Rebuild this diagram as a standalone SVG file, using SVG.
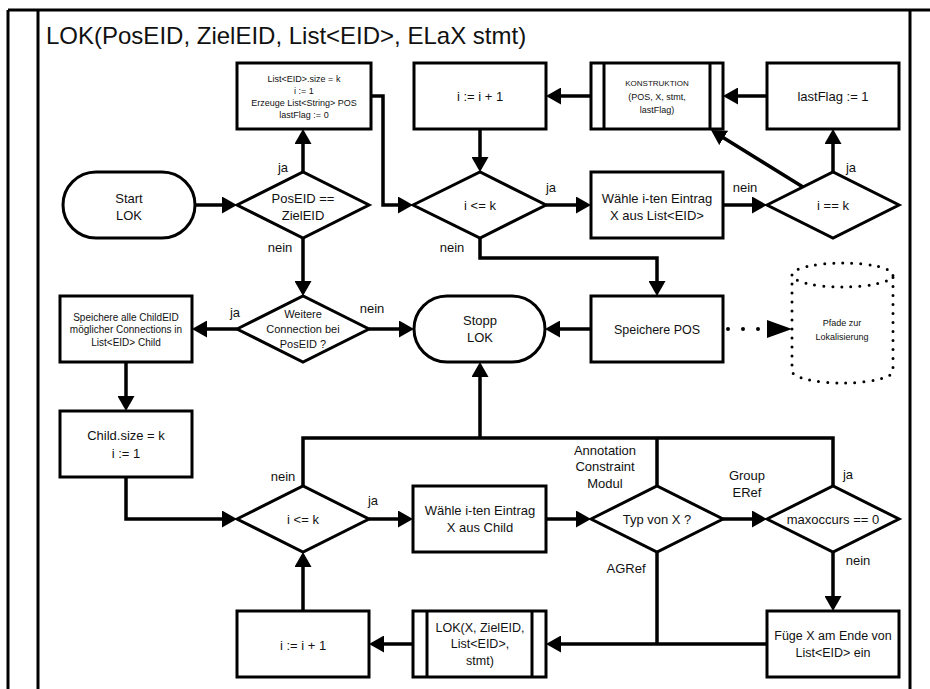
<svg xmlns="http://www.w3.org/2000/svg" width="930" height="689" viewBox="0 0 930 689">
  <defs>
    <style>
      .shape { fill: #fff; stroke: #000; stroke-width: 3; }
      .inner { fill: none; stroke: #000; stroke-width: 3; }
      .frame { fill: none; stroke: #000; stroke-width: 3; }
      .conn { fill: none; stroke: #000; stroke-width: 3.5; stroke-linejoin: miter; }
      .arrow { marker-end: url(#ah); }
      .dots { fill: none; stroke: #000; stroke-width: 3; stroke-linecap: round; stroke-dasharray: 0 9; }
      text { font-family: "Liberation Sans", Arial, sans-serif; fill: #111; text-anchor: middle; }
      .title { font-size: 24px; text-anchor: start; }
      .t13 { font-size: 13px; }
      .t12 { font-size: 12.5px; }
      .t11 { font-size: 11px; }
      .t10 { font-size: 10px; }
      .t9 { font-size: 9px; }
      .t8 { font-size: 8px; }
      .lbl { font-size: 13px; }
    </style>
    <marker id="ah" viewBox="0 0 15 17" refX="7" refY="8.5" markerWidth="15" markerHeight="17" markerUnits="userSpaceOnUse" orient="auto">
      <path d="M0,0 L15,8.5 L0,17 z" fill="#000"/>
    </marker>
  </defs>

  <!-- page frame -->
  <g id="frame">
    <path class="frame" d="M8,10 H930 M8,10 V689 M38,10 V689 M910,10 V689"/>
    <text class="title" x="46" y="44">LOK(PosEID, ZielEID, List&lt;EID&gt;, ELaX stmt)</text>
  </g>

  <!-- connectors -->
  <g id="connectors">
    <path class="conn arrow" d="M195,205 H229"/>
    <path class="conn arrow" d="M303,172 V137"/>
    <path class="conn arrow" d="M303,238 V288"/>
    <path class="conn arrow" d="M371,96 H383 V205 H405"/>
    <path class="conn arrow" d="M480,129 V164"/>
    <path class="conn arrow" d="M546,205 H583"/>
    <path class="conn arrow" d="M723,205 H759"/>
    <path class="conn arrow" d="M833,172 V137"/>
    <path class="conn arrow" d="M767,96 H731"/>
    <path class="conn arrow" d="M591,96 H554"/>
    <path class="conn arrow" d="M803,187 L717.8,134.2"/>
    <path class="conn arrow" d="M480,238 V258 H657 V288"/>
    <path class="conn arrow" d="M591,329 H553"/>
    <path class="conn arrow" d="M369,329 H406"/>
    <path class="conn arrow" d="M237,329 H200"/>
    <path class="conn arrow" d="M126,362 V403"/>
    <path class="conn arrow" d="M126,477 V519 H229"/>
    <path class="conn" d="M303,486 V438 H833 V486 M657,438 V486"/>
    <path class="conn arrow" d="M480,438 V370"/>
    <path class="conn arrow" d="M369,519 H405"/>
    <path class="conn arrow" d="M546,519 H583"/>
    <path class="conn arrow" d="M723,519 H759"/>
    <path class="conn arrow" d="M833,552 V603"/>
    <path class="conn" d="M657,552 V644"/>
    <path class="conn arrow" d="M767,644 H554"/>
    <path class="conn arrow" d="M413,644 H377"/>
    <path class="conn arrow" d="M303,611 V560"/>
    <!-- dotted data link to the store -->
    <path d="M728,329 H760" fill="none" stroke="#000" stroke-width="4" stroke-linecap="round" stroke-dasharray="0 15"/>
    <polygon points="767,320 792,329 767,338" fill="#000"/>

    <text class="lbl" x="283" y="171.5">ja</text>
    <text class="lbl" x="280" y="251.5">nein</text>
    <text class="lbl" x="551" y="191.5">ja</text>
    <text class="lbl" x="452" y="251.5">nein</text>
    <text class="lbl" x="745" y="191.5">nein</text>
    <text class="lbl" x="851" y="171.5">ja</text>
    <text class="lbl" x="235" y="316.5">ja</text>
    <text class="lbl" x="372" y="312.5">nein</text>
    <text class="lbl" x="283" y="480.5">nein</text>
    <text class="lbl" x="373" y="504.5">ja</text>
    <text class="lbl" x="605" y="454.5">Annotation</text>
    <text class="lbl" x="605" y="470.5">Constraint</text>
    <text class="lbl" x="605" y="487.5">Modul</text>
    <text class="lbl" x="747" y="479.5">Group</text>
    <text class="lbl" x="747" y="496.5">ERef</text>
    <text class="lbl" x="848" y="478.5">ja</text>
    <text class="lbl" x="858" y="564.5">nein</text>
    <text class="lbl" x="626" y="572.5">AGRef</text>
  </g>

  <!-- row 1 -->
  <g id="init">
    <rect class="shape" x="237" y="63" width="134" height="66"/>
    <text class="t9" x="304" y="82">List&lt;EID&gt;.size = k</text>
    <text class="t9" x="304" y="94">i := 1</text>
    <text class="t9" x="304" y="106">Erzeuge List&lt;String&gt; POS</text>
    <text class="t9" x="304" y="118">lastFlag := 0</text>
  </g>
  <g id="inc1">
    <rect class="shape" x="414" y="63" width="132" height="66"/>
    <text class="t13" x="480" y="100.5">i := i + 1</text>
  </g>
  <g id="konstruktion">
    <rect class="shape" x="591" y="63" width="132" height="66"/>
    <path class="inner" d="M604,63 V129 M710,63 V129"/>
    <text class="t8" x="657" y="86">KONSTRUKTION</text>
    <text class="t9" x="657" y="100">(POS, X, stmt,</text>
    <text class="t9" x="657" y="113">lastFlag)</text>
  </g>
  <g id="lastflag">
    <rect class="shape" x="767" y="63" width="132" height="66"/>
    <text class="t13" x="833" y="100.5">lastFlag := 1</text>
  </g>

  <!-- row 2 -->
  <g id="start">
    <rect class="shape" x="63" y="172" width="132" height="66" rx="33" ry="33"/>
    <text class="t13" x="129" y="202.5">Start</text>
    <text class="t13" x="129" y="219.5">LOK</text>
  </g>
  <g id="posEqZiel">
    <polygon class="shape" points="237,205 303,172 369,205 303,238"/>
    <text class="t13" x="303" y="202.5">PosEID ==</text>
    <text class="t13" x="303" y="219.5">ZielEID</text>
  </g>
  <g id="loop1">
    <polygon class="shape" points="413,205 480,172 546,205 480,238"/>
    <text class="t13" x="480" y="209.5">i &lt;= k</text>
  </g>
  <g id="pick1">
    <rect class="shape" x="591" y="172" width="132" height="66"/>
    <text class="t13" x="657" y="202.5">Wähle i-ten Eintrag</text>
    <text class="t13" x="657" y="219.5">X aus List&lt;EID&gt;</text>
  </g>
  <g id="isLast">
    <polygon class="shape" points="767,205 833,172 899,205 833,238"/>
    <text class="t13" x="833" y="209.5">i == k</text>
  </g>

  <!-- row 3 -->
  <g id="storeChildren">
    <rect class="shape" x="60" y="296" width="132" height="66"/>
    <text class="t10" x="126" y="320.5">Speichere alle ChildEID</text>
    <text class="t10" x="126" y="333">möglicher Connections in</text>
    <text class="t10" x="126" y="345.5">List&lt;EID&gt; Child</text>
  </g>
  <g id="moreConnections">
    <polygon class="shape" points="237,329 303,296 369,329 303,362"/>
    <text class="t11" x="303" y="318">Weitere</text>
    <text class="t11" x="303" y="333">Connection bei</text>
    <text class="t11" x="303" y="348">PosEID ?</text>
  </g>
  <g id="stop">
    <rect class="shape" x="414" y="296" width="131" height="66" rx="33" ry="33"/>
    <text class="t13" x="480" y="324.5">Stopp</text>
    <text class="t13" x="480" y="341.5">LOK</text>
  </g>
  <g id="storePos">
    <rect class="shape" x="591" y="296" width="132" height="66"/>
    <text class="t12" x="657" y="333.5">Speichere POS</text>
  </g>
  <g id="pathStore">
    <path class="dots" d="M792,275 A50.5,12 0 0,1 893,275 A50.5,12 0 0,1 792,275 M792,275 V371 A50.5,12 0 0,0 893,371 V275"/>
    <text class="t9" x="842" y="326">Pfade zur</text>
    <text class="t9" x="842" y="340">Lokalisierung</text>
  </g>

  <!-- row 4 and below -->
  <g id="childInit">
    <rect class="shape" x="60" y="411" width="132" height="66"/>
    <text class="t13" x="126" y="439.5">Child.size = k</text>
    <text class="t13" x="126" y="457.5">i := 1</text>
  </g>
  <g id="loop2">
    <polygon class="shape" points="237,519 303,486 369,519 303,552"/>
    <text class="t13" x="303" y="523.5">i &lt;= k</text>
  </g>
  <g id="pick2">
    <rect class="shape" x="413" y="486" width="133" height="66"/>
    <text class="t13" x="480" y="514.5">Wähle i-ten Eintrag</text>
    <text class="t13" x="480" y="531.5">X aus Child</text>
  </g>
  <g id="typeOfX">
    <polygon class="shape" points="591,519 657,486 723,519 657,552"/>
    <text class="t13" x="657" y="523.5">Typ von X ?</text>
  </g>
  <g id="maxOccurs">
    <polygon class="shape" points="767,519 833,486 899,519 833,552"/>
    <text class="t13" x="833" y="523.5">maxoccurs == 0</text>
  </g>
  <g id="append">
    <rect class="shape" x="767" y="611" width="132" height="66"/>
    <text class="t12" x="833" y="639.5">Füge X am Ende von</text>
    <text class="t12" x="833" y="656.5">List&lt;EID&gt; ein</text>
  </g>
  <g id="recurse">
    <rect class="shape" x="413" y="611" width="133" height="66"/>
    <path class="inner" d="M427,611 V677 M532,611 V677"/>
    <text class="t12" x="480" y="631.5">LOK(X, ZielEID,</text>
    <text class="t12" x="480" y="648">List&lt;EID&gt;,</text>
    <text class="t12" x="480" y="664.5">stmt)</text>
  </g>
  <g id="inc2">
    <rect class="shape" x="237" y="611" width="132" height="66"/>
    <text class="t13" x="303" y="649.5">i := i + 1</text>
  </g>
</svg>
